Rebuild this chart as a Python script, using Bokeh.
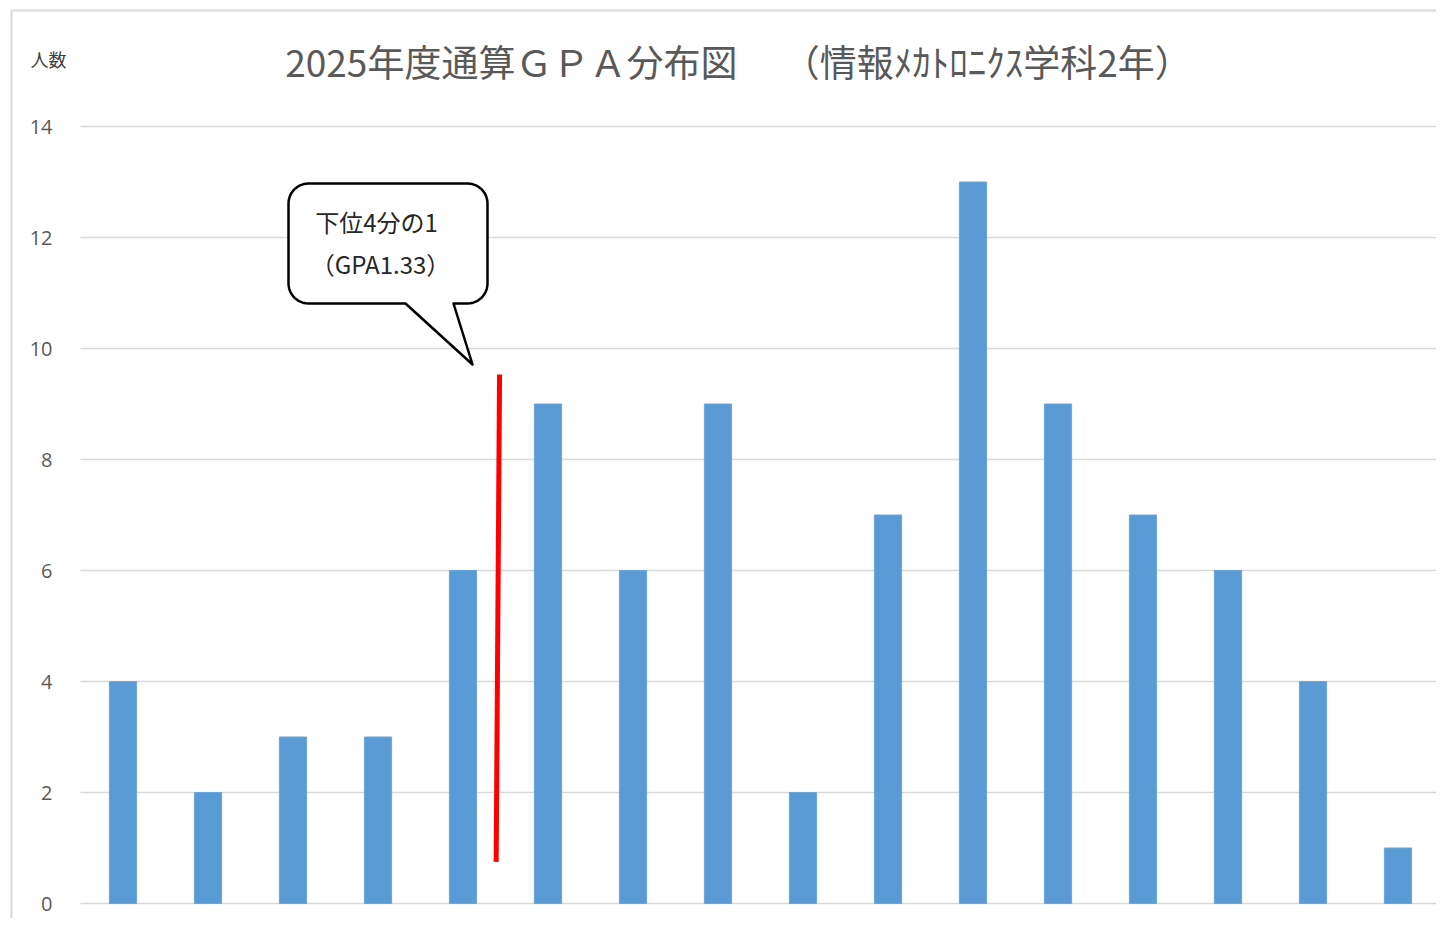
import numpy as np
from bokeh.plotting import figure
from bokeh.models import Range1d, Label
from bokeh.embed import file_html
from bokeh.resources import INLINE

# ---- data ----
counts = [4, 2, 3, 3, 6, 9, 6, 9, 2, 7, 13, 9, 7, 6, 4, 1]
y_ticks = [0, 2, 4, 6, 8, 10, 12, 14]
y_tick_labels = [str(t) for t in y_ticks]
title_text = "2025年度通算ＧＰＡ分布図　 （情報ﾒｶﾄﾛﾆｸｽ学科2年）"
y_label = "人数"
callout_line1 = "下位4分の1"
callout_line2 = "（GPA1.33）"
quartile_x = [4.93, 4.89]
quartile_y = [9.53, 0.75]

# ---- layout (pixel geometry of the chart area) ----
W, H = 1436, 918
PLOT_L, PLOT_R, PLOT_T, PLOT_B = 80, 1440, 126, 903
n = len(counts)
ymax = 14
SX = (PLOT_R - PLOT_L) / n          # px per category
SY = (PLOT_B - PLOT_T) / ymax       # px per count

def dx(px):
    return (px - PLOT_L) / SX

def dy(py):
    return (PLOT_B - py) / SY

p = figure(frame_width=W, frame_height=H,
           x_range=Range1d(dx(0), dx(W)), y_range=Range1d(dy(H), dy(0)),
           output_backend="svg", toolbar_location=None,
           x_axis_location=None, y_axis_location=None,
           min_border=0)
p.outline_line_color = None
p.background_fill_color = "white"
p.border_fill_color = "white"
p.xgrid.visible = False
p.ygrid.visible = False

# chart-area border (light gray, left and top)
p.line([dx(11), dx(11), dx(W + 20)], [dy(H + 20), dy(10), dy(10)],
       line_color="#d9d9d9", line_width=2)

# horizontal gridlines and y tick labels
p.segment(x0=[0] * len(y_ticks), x1=[n] * len(y_ticks), y0=y_ticks, y1=y_ticks,
          line_color="#d9d9d9", line_width=1.5)
p.text(x=[dx(52)] * len(y_ticks), y=y_ticks, text=y_tick_labels,
       text_align="right", text_baseline="middle",
       text_font={"value": "Open Sans"}, text_font_size="20px", text_color="#595959")

# bars
x_pos = np.arange(n) + 0.5
p.vbar(x=x_pos, top=counts, width=0.32, fill_color="#5b9bd5", line_color="#6aa5db", line_width=1)

# red quartile line
p.line(quartile_x, quartile_y, line_color="#ff0000", line_width=5)

# callout bubble
box_l, box_r, box_t, box_b = dx(288), dx(487), dy(183), dy(303)
tail_l, tail_r, tip = dx(405), dx(453), (dx(472), dy(364))
rx, ry = 20 / SX, 20 / SY

def arc(cx, cy, a0, a1):
    a = np.radians(np.linspace(a0, a1, 12))
    return list(cx + rx * np.cos(a)), list(cy + ry * np.sin(a))

xs, ys = [], []
for cx, cy, a0, a1 in [(box_l + rx, box_t - ry, 180, 90),
                       (box_r - rx, box_t - ry, 90, 0),
                       (box_r - rx, box_b + ry, 0, -90)]:
    ax, ay = arc(cx, cy, a0, a1)
    xs += ax; ys += ay
xs += [tail_r, tip[0], tail_l]
ys += [box_b, tip[1], box_b]
ax, ay = arc(box_l + rx, box_b + ry, -90, -180)
xs += ax; ys += ay
p.patch(xs, ys, fill_color="white", line_color="black", line_width=2.5, line_join="round")

p.add_layout(Label(x=dx(376), y=dy(221), text=callout_line1, text_align="center", text_baseline="middle",
                   text_font="Noto Sans CJK JP", text_font_size="24px", text_color="#262626"))
p.add_layout(Label(x=dx(380), y=dy(263), text=callout_line2, text_align="center", text_baseline="middle",
                   text_font="Noto Sans CJK JP", text_font_size="24px", text_color="#262626"))

# title and y label
p.add_layout(Label(x=dx(738), y=dy(60), text=title_text, text_align="center", text_baseline="middle",
                   text_font="Noto Sans CJK JP", text_font_size="37px", text_color="#595959"))
p.add_layout(Label(x=dx(48), y=dy(58), text=y_label, text_align="center", text_baseline="middle",
                   text_font="Noto Sans CJK JP", text_font_size="18px", text_color="#404040"))

open("out.html", "w").write(file_html(p, INLINE))
